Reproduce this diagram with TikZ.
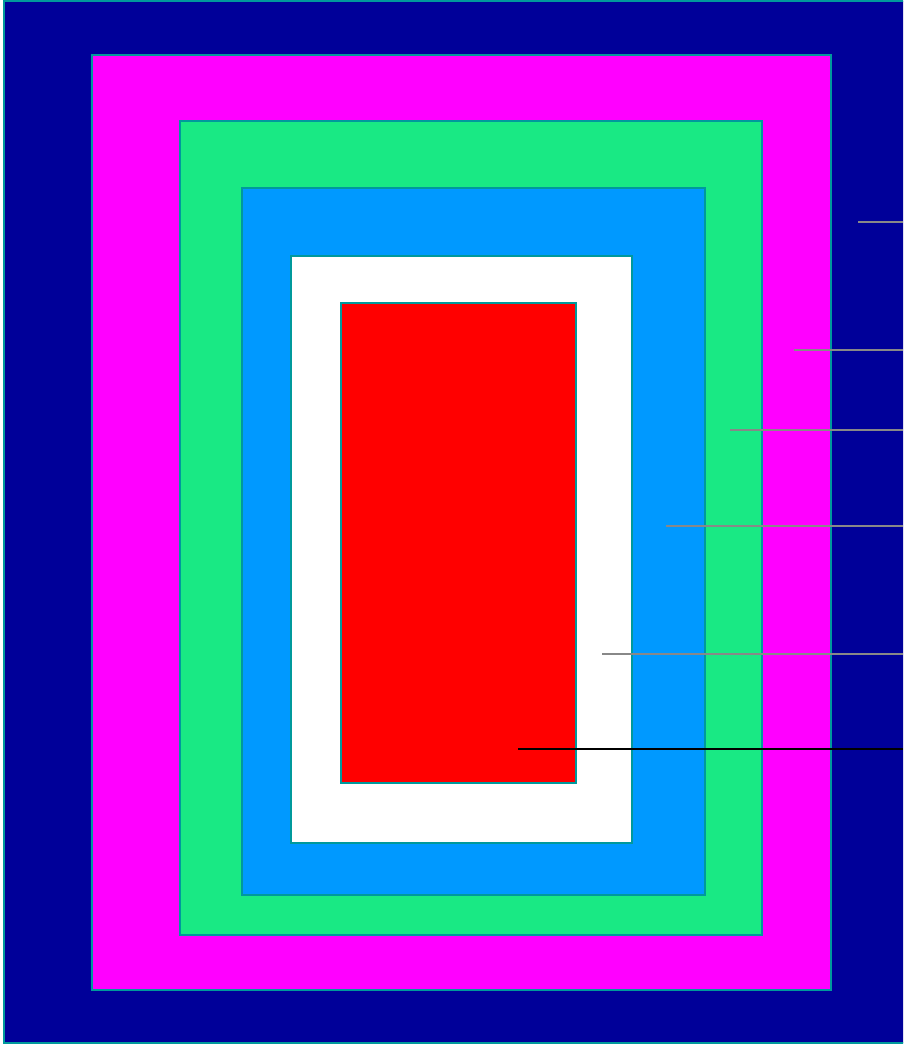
\documentclass[tikz,border=0pt]{standalone}
\definecolor{navy}{HTML}{000099}
\definecolor{mag}{HTML}{FF00FF}
\definecolor{grn}{HTML}{19E984}
\definecolor{sky}{HTML}{0099FF}
\definecolor{edge}{HTML}{00999C}
\definecolor{lgray}{HTML}{888888}
\begin{document}
\begin{tikzpicture}[x=1pt,y=-1pt,
  band/.style={draw=edge,line width=1.6pt},
  lead/.style={draw=lgray,line width=1.8pt},
  leadk/.style={draw=black,line width=1.8pt}]
\useasboundingbox (0,0) rectangle (903,1046);
\begin{scope}
\clip (0,0) rectangle (903,1046);
\path[band,fill=navy] (4,1) rectangle (910,1043);
\end{scope}
\path[band,fill=mag] (92,55) rectangle (831,990);
\path[band,fill=grn] (180,121) rectangle (762,935);
\path[band,fill=sky] (242,188) rectangle (705,895);
\path[band,fill=white] (291,256) rectangle (632,843);
\path[band,fill=red] (341,303) rectangle (576,783);
\coordinate (a1) at (858,222); \coordinate (b1) at (903,222);
\coordinate (a2) at (794,350); \coordinate (b2) at (903,350);
\coordinate (a3) at (730,430); \coordinate (b3) at (903,430);
\coordinate (a4) at (666,526); \coordinate (b4) at (903,526);
\coordinate (a5) at (602,654); \coordinate (b5) at (903,654);
\coordinate (a6) at (518,749); \coordinate (b6) at (903,749);
\draw[lead] (a1) -- (b1);
\draw[lead] (a2) -- (b2);
\draw[lead] (a3) -- (b3);
\draw[lead] (a4) -- (b4);
\draw[lead] (a5) -- (b5);
\draw[leadk] (a6) -- (b6);
\end{tikzpicture}
\end{document}
